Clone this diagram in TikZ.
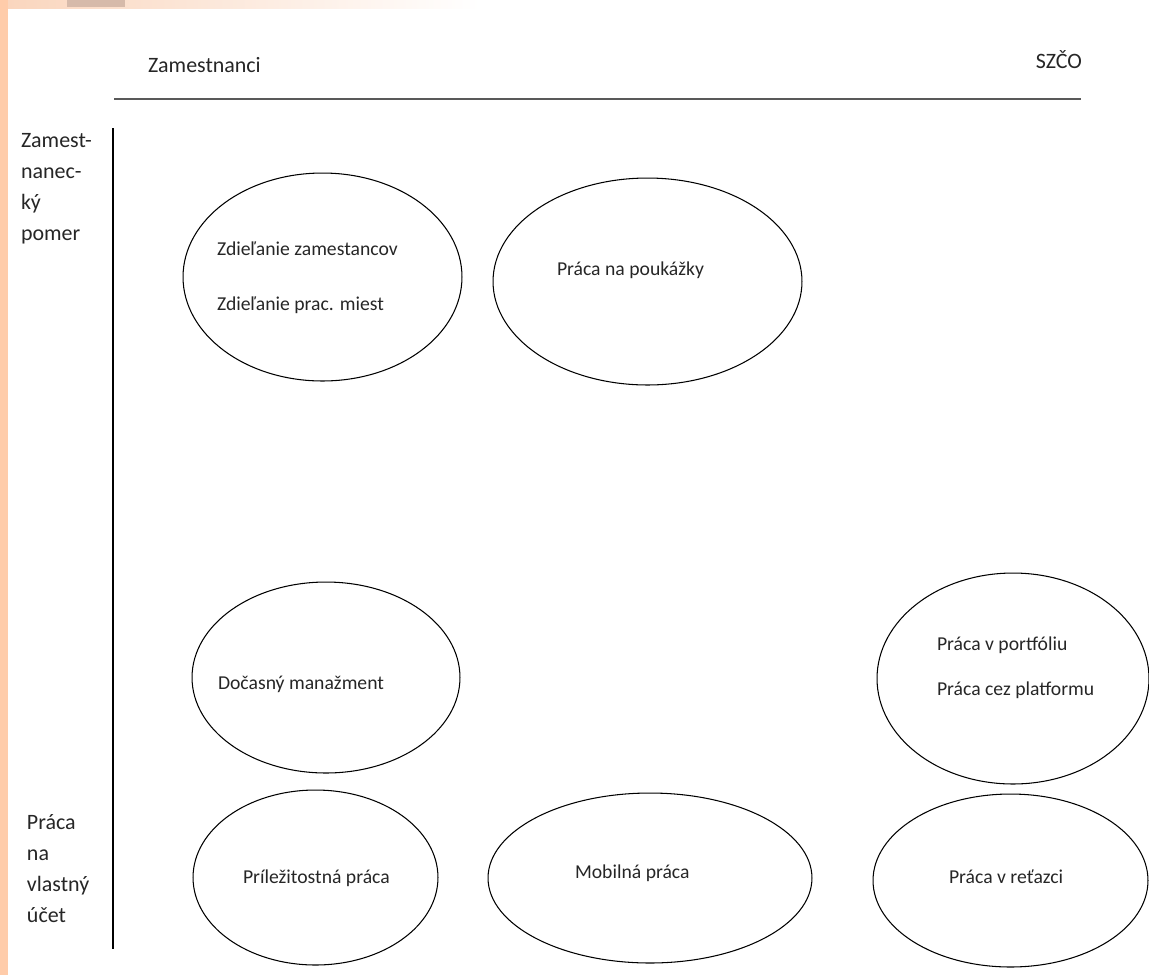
\documentclass[tikz,border=0pt]{standalone}
\usepackage{fontspec}
\setmainfont{Carlito}
\usetikzlibrary{shapes.geometric}

\begin{document}
\begin{tikzpicture}[x=0.02cm, y=-0.02cm,
        every node/.style={inner sep=0pt, outer sep=0pt},
        oval/.style={ellipse, draw=black, line width=0.6pt},
        item/.style={anchor=base west, font=\fontsize{11.2}{13}\selectfont, text=black!85},
        side/.style={anchor=base west, align=left, font=\fontsize{12.5}{17.5}\selectfont, text=black!85},
        axis/.style={draw=black, line width=0.9pt}]

        \definecolor{peach}{RGB}{255, 204, 170}
        \definecolor{peachtop}{RGB}{250, 214, 190}
        \definecolor{tabcolor}{RGB}{214, 186, 170}

        \useasboundingbox (0,0) rectangle (1149,975);
        \fill[peach] (0,0) rectangle (8,975);
        \shade[left color=peachtop, right color=white] (8,0) rectangle (480,8);
        \fill[tabcolor] (67,0) rectangle (125,7);

        % base of a multi-line node = last line
        \node[side] (zamestnanci) at (148,72) {Zamestnanci};
        \node[side, anchor=base east] (szco) at (1082,68) {SZČO};
        \node[side] (pomer) at (21,240) {Zamest-\\nanec-\\ký\\pomer};
        \node[side] (ucet) at (27,922) {Práca\\na\\vlastný\\účet};

        \coordinate (hleft) at (114,99);
        \coordinate (hright) at (1081,99);
        \coordinate (vtop) at (113,128);
        \coordinate (vbottom) at (113,949);
        \draw[axis, draw=black!65, line width=1.2pt] (hleft) -- (hright);
        \draw[axis] (vtop) -- (vbottom);

        \node[oval, minimum width=5.58cm, minimum height=4.16cm] (zdielanie) at (322.5,277) {};
        \node[oval, minimum width=6.18cm, minimum height=4.14cm] (poukazky) at (647.5,281.5) {};
        \node[oval, minimum width=5.36cm, minimum height=3.82cm] (docasny) at (326,677.5) {};
        \node[oval, minimum width=5.44cm, minimum height=4.22cm] (portfolio) at (1013,678.5) {};
        \node[oval, minimum width=4.90cm, minimum height=3.50cm] (prilezitostna) at (315.5,877.5) {};
        \node[oval, minimum width=6.48cm, minimum height=3.40cm] (mobilna) at (650,878) {};
        \node[oval, minimum width=5.50cm, minimum height=3.46cm] (retazec) at (1010.5,880.5) {};

        \node[item] (zamestnanci_t) at (217,255) {Zdieľanie zamestancov};
        \node[item] (miesta_t) at (217,310) {Zdieľanie prac. miest};
        \node[item] (poukazky_t) at (557,275) {Práca na poukážky};
        \node[item] (docasny_t) at (218,689) {Dočasný manažment};
        \node[item] (portfolio_t) at (937,650) {Práca v portfóliu};
        \node[item] (platforma_t) at (937,695) {Práca cez platformu};
        \node[item] (prilezitostna_t) at (243,883) {Príležitostná práca};
        \node[item] (mobilna_t) at (575,878) {Mobilná práca};
        \node[item] (retazec_t) at (949,883) {Práca v reťazci};

    \end{tikzpicture}
\end{document}
